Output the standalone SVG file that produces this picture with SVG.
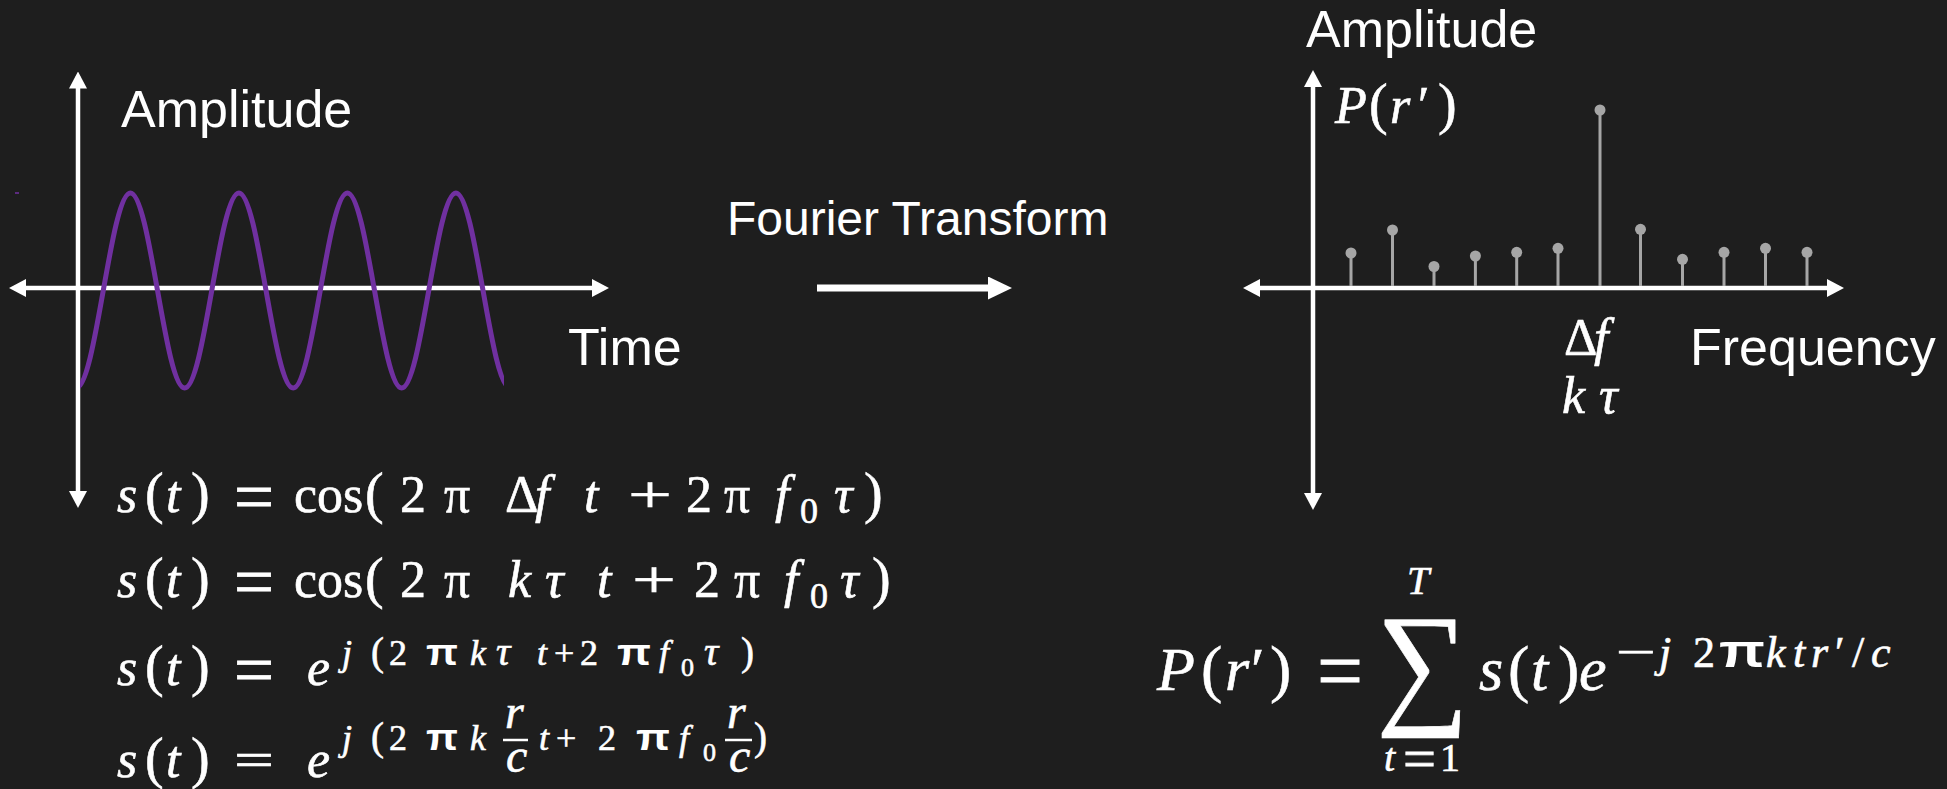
<svg xmlns="http://www.w3.org/2000/svg" width="1947" height="789" viewBox="0 0 1947 789">
<defs>
<style>
.sans{font-family:"Liberation Sans",Arial,sans-serif;fill:#fff}
.m{font-family:"Liberation Serif","Times New Roman",serif;fill:#fff;stroke:#fff;stroke-width:0.6}
.i{font-style:italic}
.bp{font-family:"Liberation Sans",Arial,sans-serif;font-weight:bold;font-style:normal;fill:#fff}
.axis{stroke:#fff;stroke-width:4.5;fill:none;marker-start:url(#ah);marker-end:url(#ah)}
.stem{stroke:#A6A6A6;stroke-width:3}
.dot{fill:#A6A6A6}
.wave{stroke:#7030A0;stroke-width:5;fill:none}
.bar{stroke:#fff;stroke-width:2.5}
</style>
<marker id="ah" markerUnits="userSpaceOnUse" viewBox="0 0 17 18" markerWidth="17" markerHeight="18" refX="12" refY="9" orient="auto-start-reverse"><path d="M0,0L17,9L0,18z" fill="#fff"/></marker>
<marker id="big" markerUnits="userSpaceOnUse" viewBox="0 0 24 23" markerWidth="24" markerHeight="23" refX="2" refY="11.5" orient="auto"><path d="M0,0L24,11.5L0,23z" fill="#fff"/></marker>
<clipPath id="wc"><rect x="80" y="0" width="424" height="789"/></clipPath>
</defs>
<rect width="1947" height="789" fill="#1E1E1E"/>

<g id="time-plot">
<line class="axis" x1="78" y1="503" x2="78" y2="76.5"/>
<line class="axis" x1="14" y1="288" x2="604" y2="288"/>
<path class="wave" clip-path="url(#wc)" d="M76.15,388c19.71,0 34.54,-195 54.25,-195c19.71,0 34.54,195 54.25,195c19.71,0 34.54,-195 54.25,-195c19.71,0 34.54,195 54.25,195c19.71,0 34.54,-195 54.25,-195c19.71,0 34.54,195 54.25,195c19.71,0 34.54,-195 54.25,-195c19.71,0 34.54,195 54.25,195"/>
<line x1="15" y1="193" x2="19" y2="193" stroke="#7030A0" stroke-width="1.5"/>
<text class="sans" x="121" y="126.5" font-size="52">Amplitude</text>
<text class="sans" x="568" y="365" font-size="52">Time</text>
</g>

<g id="connectors">
<line x1="817" y1="288" x2="990" y2="288" stroke="#fff" stroke-width="7" marker-end="url(#big)"/>
</g>
<g id="transform-label">
<text class="sans" x="727" y="235" font-size="48">Fourier Transform</text>
</g>

<g id="freq-plot">
<line class="axis" x1="1313" y1="505" x2="1313" y2="75"/>
<line class="axis" x1="1248" y1="288" x2="1839" y2="288"/>
<g id="stems">
<line class="stem" x1="1351" y1="253" x2="1351" y2="286"/><circle class="dot" cx="1351" cy="253" r="5.5"/>
<line class="stem" x1="1392.5" y1="230" x2="1392.5" y2="286"/><circle class="dot" cx="1392.5" cy="230" r="5.5"/>
<line class="stem" x1="1434" y1="266.5" x2="1434" y2="286"/><circle class="dot" cx="1434" cy="266.5" r="5.5"/>
<line class="stem" x1="1475.4" y1="256" x2="1475.4" y2="286"/><circle class="dot" cx="1475.4" cy="256" r="5.5"/>
<line class="stem" x1="1516.7" y1="252.3" x2="1516.7" y2="286"/><circle class="dot" cx="1516.7" cy="252.3" r="5.5"/>
<line class="stem" x1="1558" y1="248.3" x2="1558" y2="286"/><circle class="dot" cx="1558" cy="248.3" r="5.5"/>
<line class="stem" x1="1600" y1="110" x2="1600" y2="286"/><circle class="dot" cx="1600" cy="110" r="5.5"/>
<line class="stem" x1="1640.5" y1="229.3" x2="1640.5" y2="286"/><circle class="dot" cx="1640.5" cy="229.3" r="5.5"/>
<line class="stem" x1="1682.5" y1="259.3" x2="1682.5" y2="286"/><circle class="dot" cx="1682.5" cy="259.3" r="5.5"/>
<line class="stem" x1="1724" y1="252.3" x2="1724" y2="286"/><circle class="dot" cx="1724" cy="252.3" r="5.5"/>
<line class="stem" x1="1765.5" y1="248.3" x2="1765.5" y2="286"/><circle class="dot" cx="1765.5" cy="248.3" r="5.5"/>
<line class="stem" x1="1807" y1="252.3" x2="1807" y2="286"/><circle class="dot" cx="1807" cy="252.3" r="5.5"/>
</g>
<text class="sans" x="1306" y="46.5" font-size="52">Amplitude</text>
<text class="sans" x="1690" y="365" font-size="52">Frequency</text>
<text class="m" font-size="52" y="123.3"><tspan class="i" x="1335">P</tspan><tspan x="1369" font-size="56">(</tspan><tspan class="i" x="1390">r</tspan><tspan x="1418">′</tspan><tspan x="1438" font-size="56">)</tspan></text>
<text class="m" font-size="52" y="355"><tspan x="1564">Δ</tspan><tspan class="i" x="1594">f</tspan></text>
<text class="m i" font-size="52" y="413"><tspan x="1562">k</tspan><tspan x="1599">τ</tspan></text>
</g>

<g id="eq1">
<text class="m" font-size="52" y="511.7"><tspan class="i" x="117">s</tspan><tspan x="145" font-size="56">(</tspan><tspan class="i" x="166">t</tspan><tspan x="191" font-size="56">)</tspan></text>
<text class="m" font-size="52" transform="translate(234,520.5) scale(1,1.4)" textLength="40" lengthAdjust="spacingAndGlyphs">=</text>
<text class="m" font-size="52" y="511.7"><tspan x="294">cos</tspan><tspan x="365" font-size="56">(</tspan><tspan x="400">2</tspan><tspan x="444">π</tspan><tspan x="505">Δ</tspan><tspan class="i" x="535">f</tspan><tspan class="i" x="584">t</tspan></text>
<text class="m" font-size="52" x="628" y="511.7" textLength="44" lengthAdjust="spacingAndGlyphs">+</text>
<text class="m" font-size="52" y="511.7"><tspan x="686">2</tspan><tspan x="724">π</tspan><tspan class="i" x="775">f</tspan></text>
<text class="m" font-size="36" x="800" y="523">0</text>
<text class="m" font-size="52" y="511.7"><tspan x="834" class="i">τ</tspan><tspan x="864" font-size="56">)</tspan></text>
</g>

<g id="eq2">
<text class="m" font-size="52" y="596.7"><tspan class="i" x="117">s</tspan><tspan x="145" font-size="56">(</tspan><tspan class="i" x="166">t</tspan><tspan x="191" font-size="56">)</tspan></text>
<text class="m" font-size="52" transform="translate(234,605.5) scale(1,1.4)" textLength="40" lengthAdjust="spacingAndGlyphs">=</text>
<text class="m" font-size="52" y="596.7"><tspan x="294">cos</tspan><tspan x="365" font-size="56">(</tspan><tspan x="400">2</tspan><tspan x="444">π</tspan><tspan class="i" x="508">k</tspan><tspan class="i" x="545">τ</tspan><tspan class="i" x="597">t</tspan></text>
<text class="m" font-size="52" x="632" y="596.7" textLength="44" lengthAdjust="spacingAndGlyphs">+</text>
<text class="m" font-size="52" y="596.7"><tspan x="694">2</tspan><tspan x="734">π</tspan><tspan class="i" x="784">f</tspan></text>
<text class="m" font-size="36" x="810" y="608">0</text>
<text class="m" font-size="52" y="596.7"><tspan x="840" class="i">τ</tspan><tspan x="872" font-size="56">)</tspan></text>
</g>

<g id="eq3">
<text class="m" font-size="52" y="685"><tspan class="i" x="117">s</tspan><tspan x="145" font-size="56">(</tspan><tspan class="i" x="166">t</tspan><tspan x="191" font-size="56">)</tspan></text>
<text class="m" font-size="52" transform="translate(234,693.8) scale(1,1.4)" textLength="40" lengthAdjust="spacingAndGlyphs">=</text>
<text class="m i" font-size="52" x="307" y="685">e</text>
<text class="m" font-size="36" y="665"><tspan class="i" x="342">j</tspan><tspan x="371" font-size="39">(</tspan><tspan x="389">2</tspan></text>
<text class="bp" font-size="36" x="426" y="665" textLength="32" lengthAdjust="spacingAndGlyphs">π</text>
<text class="m" font-size="36" y="665"><tspan class="i" x="470">k</tspan><tspan class="i" x="496" font-size="40">τ</tspan><tspan class="i" x="537">t</tspan><tspan x="554">+</tspan><tspan x="580">2</tspan></text>
<text class="bp" font-size="36" x="617" y="665" textLength="34" lengthAdjust="spacingAndGlyphs">π</text>
<text class="m i" font-size="36" x="659" y="665">f</text>
<text class="m" font-size="26" x="681" y="676">0</text>
<text class="m" font-size="36" y="665"><tspan class="i" x="704" font-size="40">τ</tspan><tspan x="741" font-size="39">)</tspan></text>
</g>

<g id="eq4">
<text class="m" font-size="52" y="776.7"><tspan class="i" x="117">s</tspan><tspan x="145" font-size="56">(</tspan><tspan class="i" x="166">t</tspan><tspan x="191" font-size="56">)</tspan></text>
<text class="m" font-size="49" x="234" y="776" textLength="40" lengthAdjust="spacingAndGlyphs">=</text>
<text class="m i" font-size="52" x="307" y="776.7">e</text>
<text class="m" font-size="36" y="750"><tspan class="i" x="342">j</tspan><tspan x="371" font-size="39">(</tspan><tspan x="389">2</tspan></text>
<text class="bp" font-size="36" x="426" y="750" textLength="32" lengthAdjust="spacingAndGlyphs">π</text>
<text class="m i" font-size="36" x="470" y="750">k</text>
<text class="m i" font-size="48" x="505" y="728">r</text>
<text class="m i" font-size="48" x="506" y="772">c</text>
<line class="bar" x1="503" y1="740" x2="528" y2="740"/>
<text class="m" font-size="36" y="750"><tspan class="i" x="539">t</tspan><tspan x="556">+</tspan><tspan x="598">2</tspan></text>
<text class="bp" font-size="36" x="636" y="750" textLength="34" lengthAdjust="spacingAndGlyphs">π</text>
<text class="m i" font-size="36" x="679" y="750">f</text>
<text class="m" font-size="26" x="703" y="761">0</text>
<text class="m i" font-size="48" x="727" y="728">r</text>
<text class="m i" font-size="48" x="729" y="772">c</text>
<line class="bar" x1="725" y1="740" x2="752" y2="740"/>
<text class="m" font-size="39" x="754" y="750">)</text>
</g>

<g id="eq-dft">
<text class="m" font-size="62" y="690"><tspan class="i" x="1157">P</tspan><tspan x="1201" font-size="64">(</tspan><tspan class="i" x="1225">r</tspan><tspan x="1251">′</tspan><tspan x="1270" font-size="64">)</tspan></text>
<text class="m" font-size="62" transform="translate(1317,700) scale(1,1.4)" textLength="46" lengthAdjust="spacingAndGlyphs">=</text>
<text class="m" font-size="130" text-anchor="middle" transform="translate(1422.5,709) scale(1,1.05)" stroke-width="0">∑</text>
<text class="m i" font-size="40" x="1407" y="594">T</text>
<text class="m i" font-size="40" x="1384" y="771">t</text>
<text class="m" font-size="40" transform="translate(1403,778) scale(1,1.4)" textLength="33" lengthAdjust="spacingAndGlyphs">=</text>
<text class="m" font-size="40" x="1440" y="771">1</text>
<text class="m" font-size="62" y="690"><tspan class="i" x="1479">s</tspan><tspan x="1508" font-size="64">(</tspan><tspan class="i" x="1531">t</tspan><tspan x="1558" font-size="64">)</tspan><tspan class="i" x="1579">e</tspan></text>
<text class="m" font-size="44" x="1616" y="667" textLength="40" lengthAdjust="spacingAndGlyphs">−</text>
<text class="m" font-size="44" y="667"><tspan class="i" x="1659">j</tspan><tspan x="1693">2</tspan></text>
<text class="bp" font-size="46" x="1719" y="667" textLength="46" lengthAdjust="spacingAndGlyphs">π</text>
<text class="m" font-size="44" y="667"><tspan class="i" x="1766">k</tspan><tspan class="i" x="1793">t</tspan><tspan class="i" x="1811">r</tspan><tspan x="1835">′</tspan><tspan x="1852">/</tspan><tspan class="i" x="1871">c</tspan></text>
</g>
</svg>
